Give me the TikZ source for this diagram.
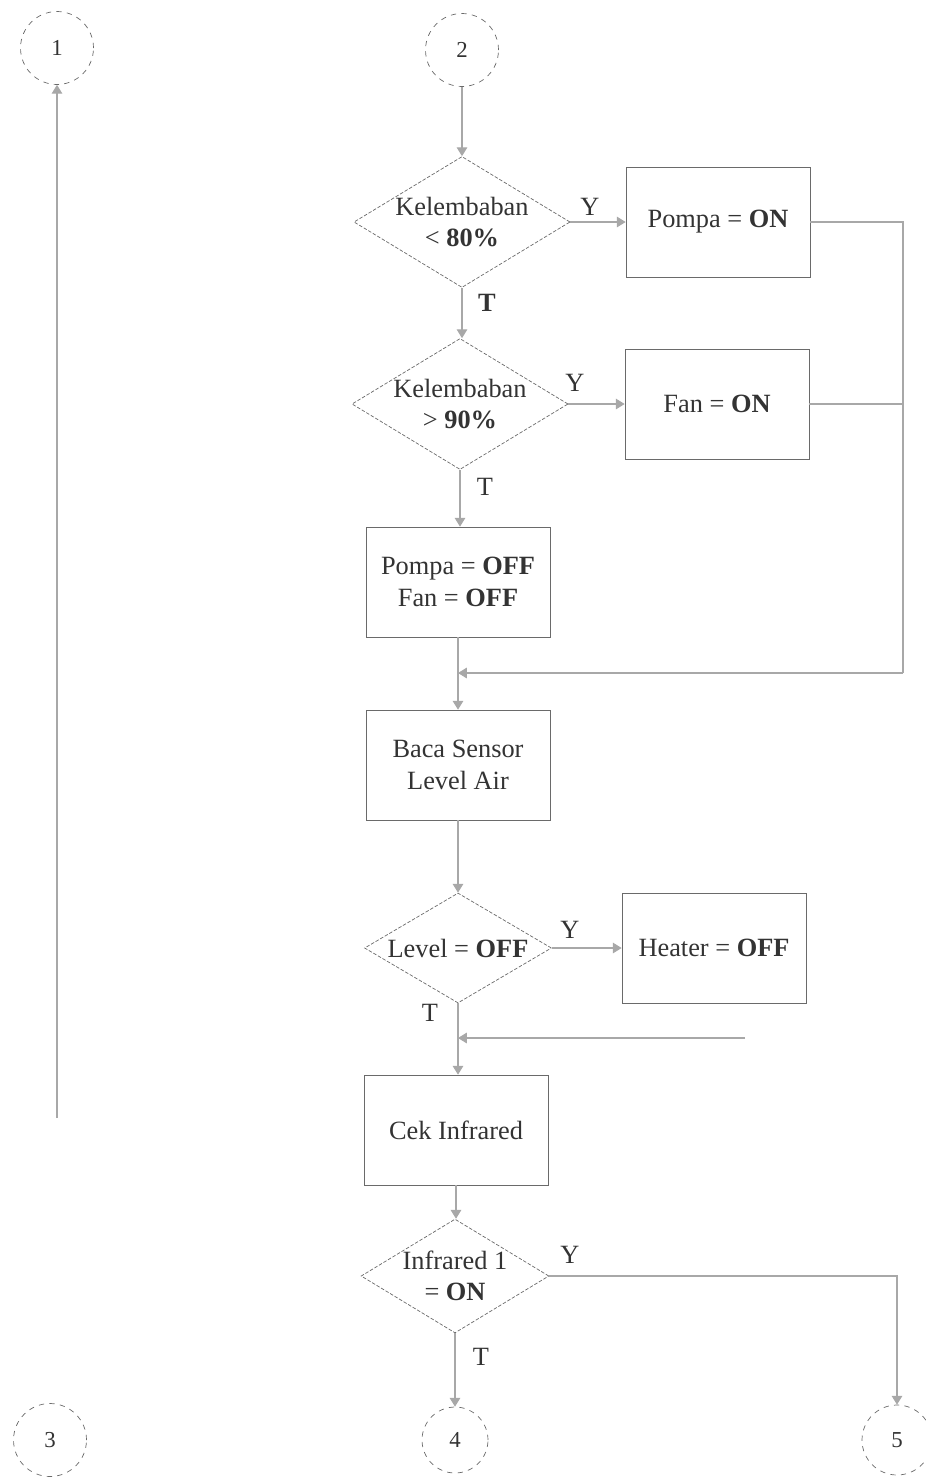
\documentclass[tikz,border=0pt]{standalone}
\usepackage{fontspec}
\setmainfont{Liberation Serif}
\usetikzlibrary{shapes.geometric,arrows.meta}
\definecolor{inkgray}{HTML}{333333}
\definecolor{linegray}{HTML}{A8A8A8}
\definecolor{framegray}{HTML}{6A6A6A}

\begin{document}
\begin{tikzpicture}[x=0.02cm,y=-0.02cm,
  every node/.style={text=inkgray},
  txt/.style={font=\fontsize{15}{18}\selectfont},
  proc/.style={txt,draw=framegray,rectangle,minimum width=3.68cm,minimum height=2.2cm,align=center},
  cond/.style={txt,draw=framegray,diamond,dash pattern=on 2pt off 1pt,aspect=1.65,inner sep=0pt,align=center},
  conn/.style={draw=framegray,circle,dashed,minimum size=1.46cm,inner sep=0pt,font=\fontsize{13}{15}\selectfont},
  lbl/.style={font=\fontsize{15}{18}\selectfont},
  flow/.style={draw=linegray,line width=0.6pt,-{Triangle[length=5pt,width=6pt]}},
  wire/.style={draw=linegray,line width=0.6pt}]
\useasboundingbox (0,0) rectangle (926,1478);

% connectors
\node[conn] (c1) at (57,48) {1};
\node[conn] (c2) at (462,50) {2};
\node[conn] (c3) at (50,1440) {3};
\node[conn,minimum size=1.32cm] (c4) at (455,1440) {4};
\node[conn,minimum size=1.4cm] (c5) at (897,1440) {5};

% humidity check
\node[cond,minimum width=4.26cm,minimum height=2.6cm] (hum1) at (462,222) {Kelembaban\\< \textbf{80\%}};
\node[proc] (pumpon) at (718,222) {Pompa = \textbf{ON}};
\node[cond,minimum width=4.3cm,minimum height=2.4cm] (hum2) at (460,404) {Kelembaban\\> \textbf{90\%}};
\node[proc] (fanon) at (717,404) {Fan = \textbf{ON}};
\node[proc] (alloff) at (458,582) {Pompa = \textbf{OFF}\\Fan = \textbf{OFF}};
\coordinate (join1) at (458,673);

% water level
\node[proc] (level) at (458,765) {Baca Sensor\\Level Air};
\node[cond,minimum width=3.74cm,minimum height=2.2cm] (lvl) at (458,948) {Level = \textbf{OFF}};
\node[proc] (heatoff) at (714,948) {Heater = \textbf{OFF}};
\coordinate (join2) at (458,1038);
\coordinate (heatend) at (745,1038);

% infrared
\node[proc] (ir) at (456,1130) {Cek Infrared};
\node[cond,minimum width=3.68cm,minimum height=2.16cm] (ir1) at (455,1276) {Infrared 1\\= \textbf{ON}};
\coordinate (loopend) at (57,1118);

% labels
\node[lbl] at (590,207) {Y};
\node[lbl] at (487,303) {\textbf{T}};
\node[lbl] at (575,383) {Y};
\node[lbl] at (485,487) {T};
\node[lbl] at (570,930) {Y};
\node[lbl] at (430,1013) {T};
\node[lbl] at (570,1255) {Y};
\node[lbl] at (481,1357) {T};

% flow lines
\draw[flow] (c2) -- (hum1);
\draw[flow] (hum1.east) -- (pumpon.west);
\draw[flow] (hum1.south) -- (hum1.south |- hum2.north);
\draw[flow] (hum2.east) -- (fanon.west);
\draw[flow] (hum2.south) -- (hum2.south |- alloff.north);
\draw[wire] (alloff.south) -- (join1);
\draw[wire] (pumpon.east) -- (903,222) -- (903,673);
\draw[wire] (fanon.east) -- (903,404);
\draw[flow] (903,673) -- (join1);
\draw[flow] (join1) -- (level.north);
\draw[flow] (level.south) -- (lvl.north);
\draw[flow] (lvl.east) -- (heatoff.west);
\draw[flow] (heatend) -- (join2);
\draw[wire] (lvl.south) -- (join2);
\draw[flow] (join2) -- (join2 |- ir.north);
\draw[flow] (ir.south) -- (ir.south |- ir1.north);
\draw[flow] (ir1.south) -- (c4.north);
\draw[flow] (ir1.east) -| (c5.north);
\draw[flow] (loopend) -- (c1.south);
\end{tikzpicture}
\end{document}
